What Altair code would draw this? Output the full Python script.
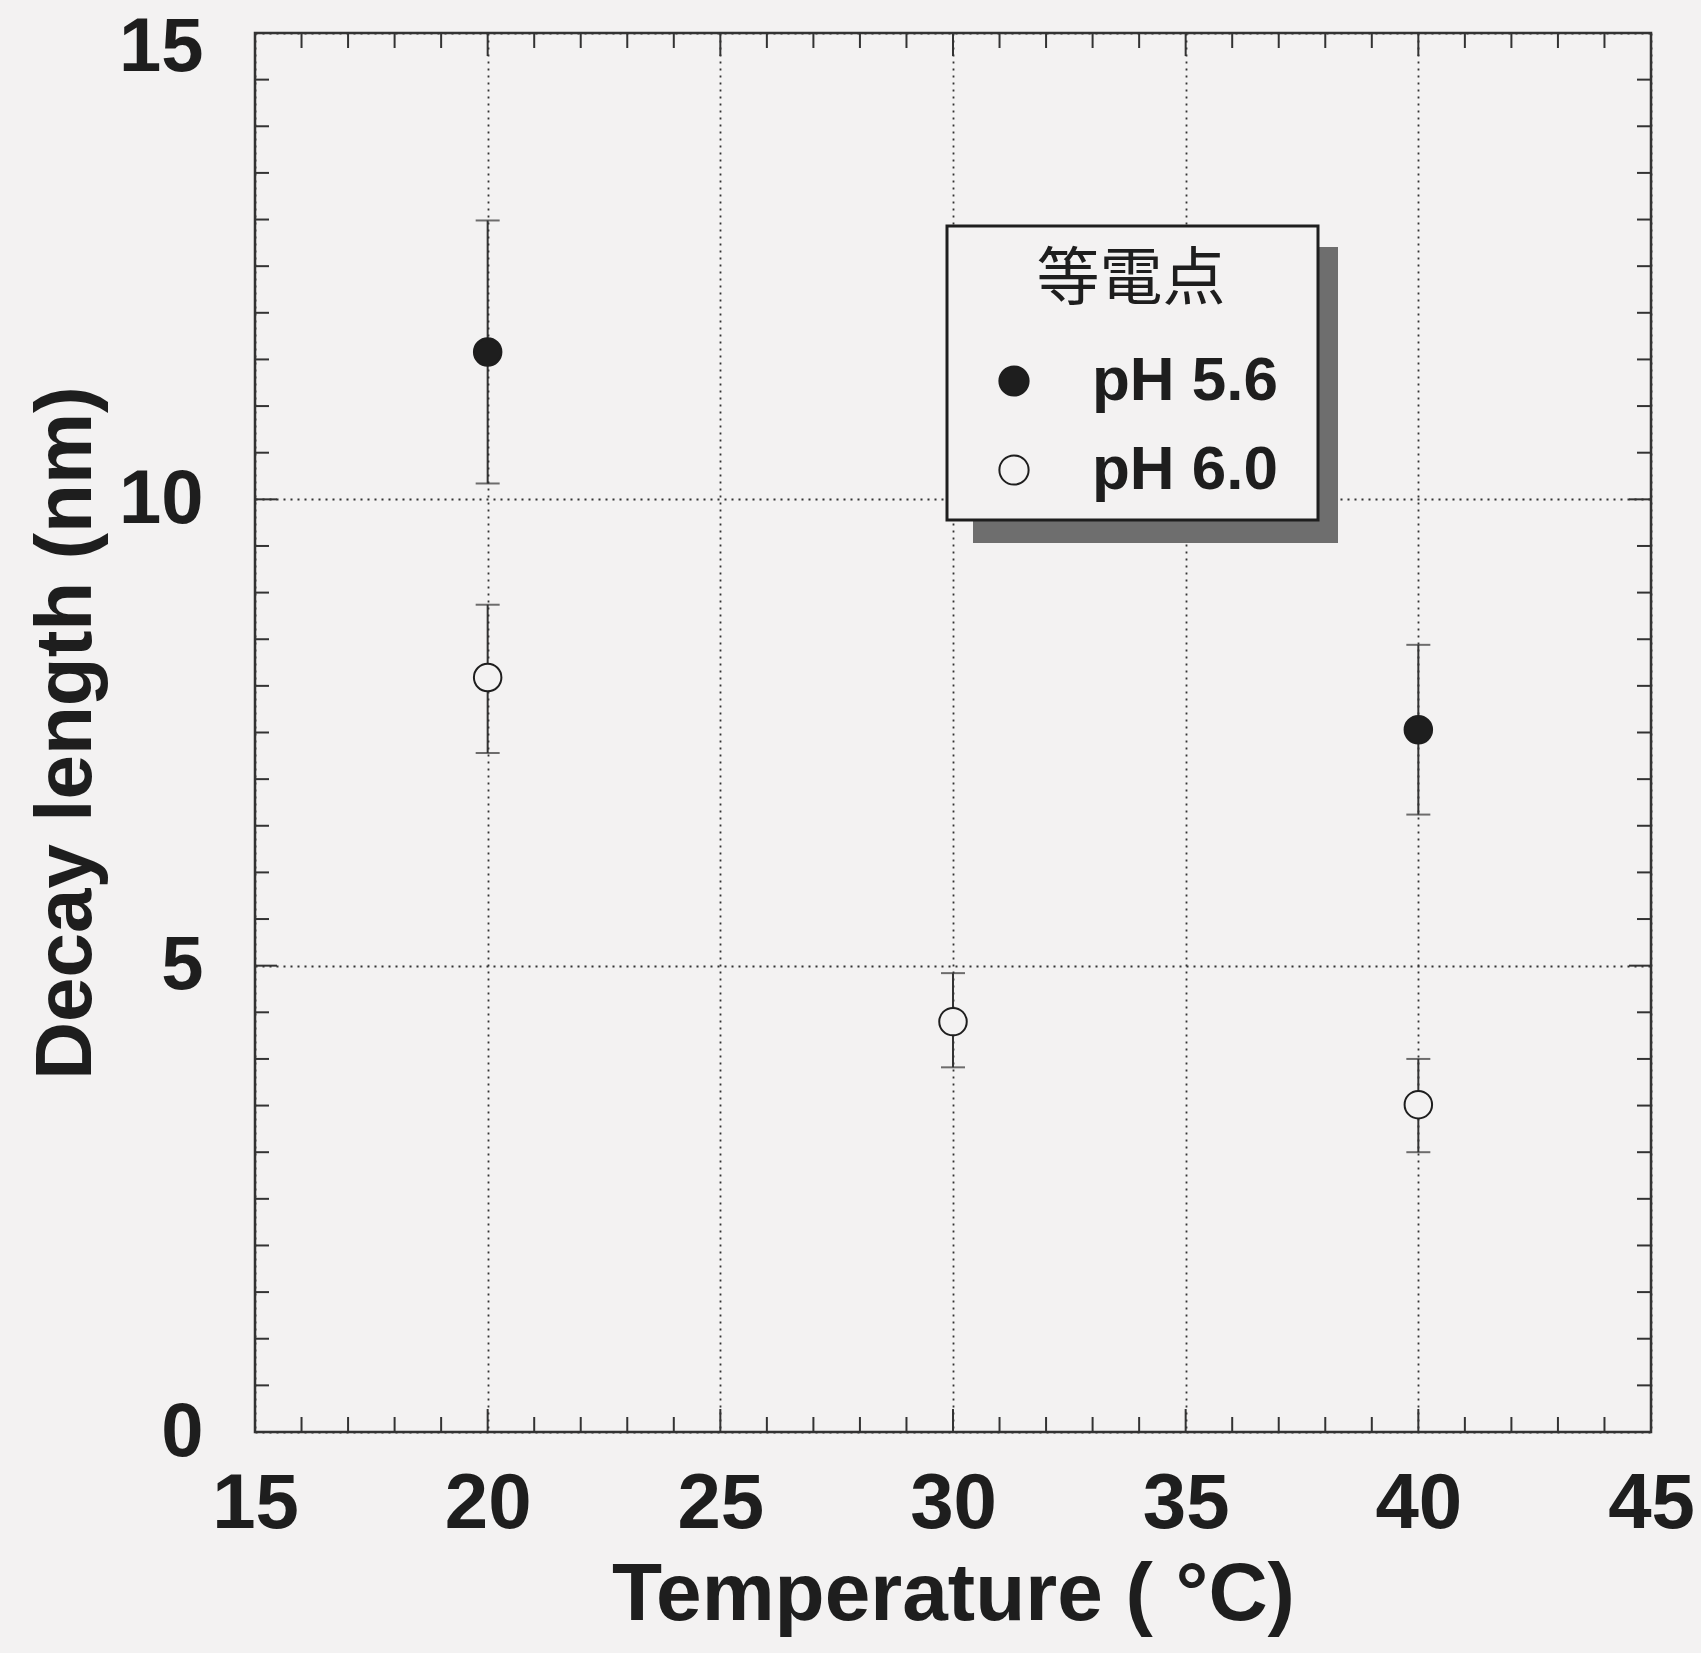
import altair as alt
import pandas as pd

# ---------------- data ----------------
series = ["pH 5.6", "pH 5.6", "pH 6.0", "pH 6.0", "pH 6.0"]
temperature = [20, 40, 20, 30, 40]
decay = [11.58, 7.53, 8.09, 4.40, 3.51]
err_low = [10.17, 6.62, 7.28, 3.91, 3.00]
err_high = [12.99, 8.44, 8.87, 4.92, 4.00]

x_major = [15, 20, 25, 30, 35, 40, 45]
y_major = [0, 5, 10, 15]
x_minor = [v for v in range(16, 45) if v % 5 != 0]
y_minor = [v / 2 for v in range(1, 30) if v % 10 != 0]
legend_title = "等電点"

df = pd.DataFrame({"series": series, "temperature": temperature, "decay": decay,
                   "lo": err_low, "hi": err_high})

W, H = 1396, 1399
BG = "#f3f2f2"
INK = "#1e1e1e"
FONT = "Liberation Sans"

xs = alt.Scale(domain=[15, 45], nice=False, zero=False)
ys = alt.Scale(domain=[0, 15], nice=False, zero=True)

x_axis = alt.Axis(values=x_major, grid=True, gridDash=[2, 5], gridColor="#333", gridWidth=1.8,
                  ticks=False, domain=False, labelFont=FONT, labelFontSize=78, labelFontWeight="bold",
                  labelColor=INK, labelBaseline="middle", labelPadding=72, labelFlush=False,
                  format="d",
                  title="Temperature ( °C)", titleFont=FONT, titleFontSize=82, titleFontWeight="bold",
                  titleColor=INK, titleX=W / 2, titleY=162, titleBaseline="middle", titleAlign="center")
y_axis = alt.Axis(values=y_major, grid=True, gridDash=[2, 5], gridColor="#333", gridWidth=1.8,
                  ticks=False, domain=False, labelFont=FONT, labelFontSize=76, labelFontWeight="bold",
                  labelColor=INK, labelPadding=52, labelFlush=False, format="d",
                  labelOffset={"condition": {"test": "datum.value == 15", "value": 14}, "value": 0},
                  title="Decay length (nm)", titleFont=FONT, titleFontSize=80, titleFontWeight="bold",
                  titleColor=INK, titleX=-189, titleY=H / 2, titleAngle=270, titleBaseline="middle",
                  titleAlign="center")

# error bars (carry the axes)
bars = alt.Chart(df).mark_rule(color="#333", strokeWidth=2).encode(
    x=alt.X("temperature:Q", scale=xs, axis=x_axis),
    y=alt.Y("lo:Q", scale=ys, axis=y_axis),
    y2="hi:Q",
)
cap_lo = alt.Chart(df).mark_tick(orient="horizontal", size=24, thickness=2, color="#333").encode(
    x=alt.X("temperature:Q", scale=xs), y=alt.Y("lo:Q", scale=ys))
cap_hi = alt.Chart(df).mark_tick(orient="horizontal", size=24, thickness=2, color="#333").encode(
    x=alt.X("temperature:Q", scale=xs), y=alt.Y("hi:Q", scale=ys))

points = alt.Chart(df).mark_point(shape="circle", size=755, strokeWidth=2, stroke=INK,
                                  filled=False, opacity=1).encode(
    x=alt.X("temperature:Q", scale=xs),
    y=alt.Y("decay:Q", scale=ys),
    fill=alt.Fill("series:N",
                  scale=alt.Scale(domain=["pH 5.6", "pH 6.0"], range=[INK, BG]),
                  legend=alt.Legend(title=legend_title, orient="none", legendX=728, legendY=216,
                                    titleFont="Noto Sans CJK JP", titleFontSize=63,
                                    titleFontWeight="normal", titleColor=INK, titleAnchor="middle",
                                    titleLimit=600,
                                    titlePadding=38, labelFont=FONT, labelFontSize=62,
                                    labelFontWeight="bold", labelColor=INK, labelOffset=47,
                                    labelLimit=500,
                                    symbolType="circle", symbolSize=855, symbolStrokeColor=INK,
                                    symbolStrokeWidth=2, rowPadding=27, padding=0)),
)

# minor / major inward ticks on all four sides
def xticks(vals, length):
    d = pd.DataFrame({"v": vals})
    b = alt.Chart(d).mark_rule(color="#333", strokeWidth=2).encode(
        x=alt.X("v:Q", scale=xs), y=alt.value(H), y2=alt.value(H - length))
    t = alt.Chart(d).mark_rule(color="#333", strokeWidth=2).encode(
        x=alt.X("v:Q", scale=xs), y=alt.value(0), y2=alt.value(length))
    return [b, t]

def yticks(vals, length):
    d = pd.DataFrame({"v": vals})
    l = alt.Chart(d).mark_rule(color="#333", strokeWidth=2).encode(
        y=alt.Y("v:Q", scale=ys), x=alt.value(0), x2=alt.value(length))
    r = alt.Chart(d).mark_rule(color="#333", strokeWidth=2).encode(
        y=alt.Y("v:Q", scale=ys), x=alt.value(W), x2=alt.value(W - length))
    return [l, r]

tick_layers = xticks(x_minor, 15) + xticks(x_major, 23) + yticks(y_minor, 14) + yticks(y_major, 22)

one = pd.DataFrame({"a": [0]})
shadow = alt.Chart(one).mark_rect(color="#6e6e6e").encode(
    x=alt.value(718), x2=alt.value(1083), y=alt.value(214), y2=alt.value(510))
box = alt.Chart(one).mark_rect(fill=BG, stroke=INK, strokeWidth=3).encode(
    x=alt.value(692), x2=alt.value(1063), y=alt.value(193), y2=alt.value(487))

chart = alt.layer(bars, *tick_layers, cap_lo, cap_hi, shadow, box, points).properties(
    width=W, height=H,
    background=BG,
    padding={"left": 255, "top": 33, "right": 50, "bottom": 221},
    autosize=alt.AutoSizeParams(type="none"),
).configure_view(stroke="#333", strokeWidth=2.5)

chart.save("out.html", embed_options={"renderer": "svg", "actions": False})
